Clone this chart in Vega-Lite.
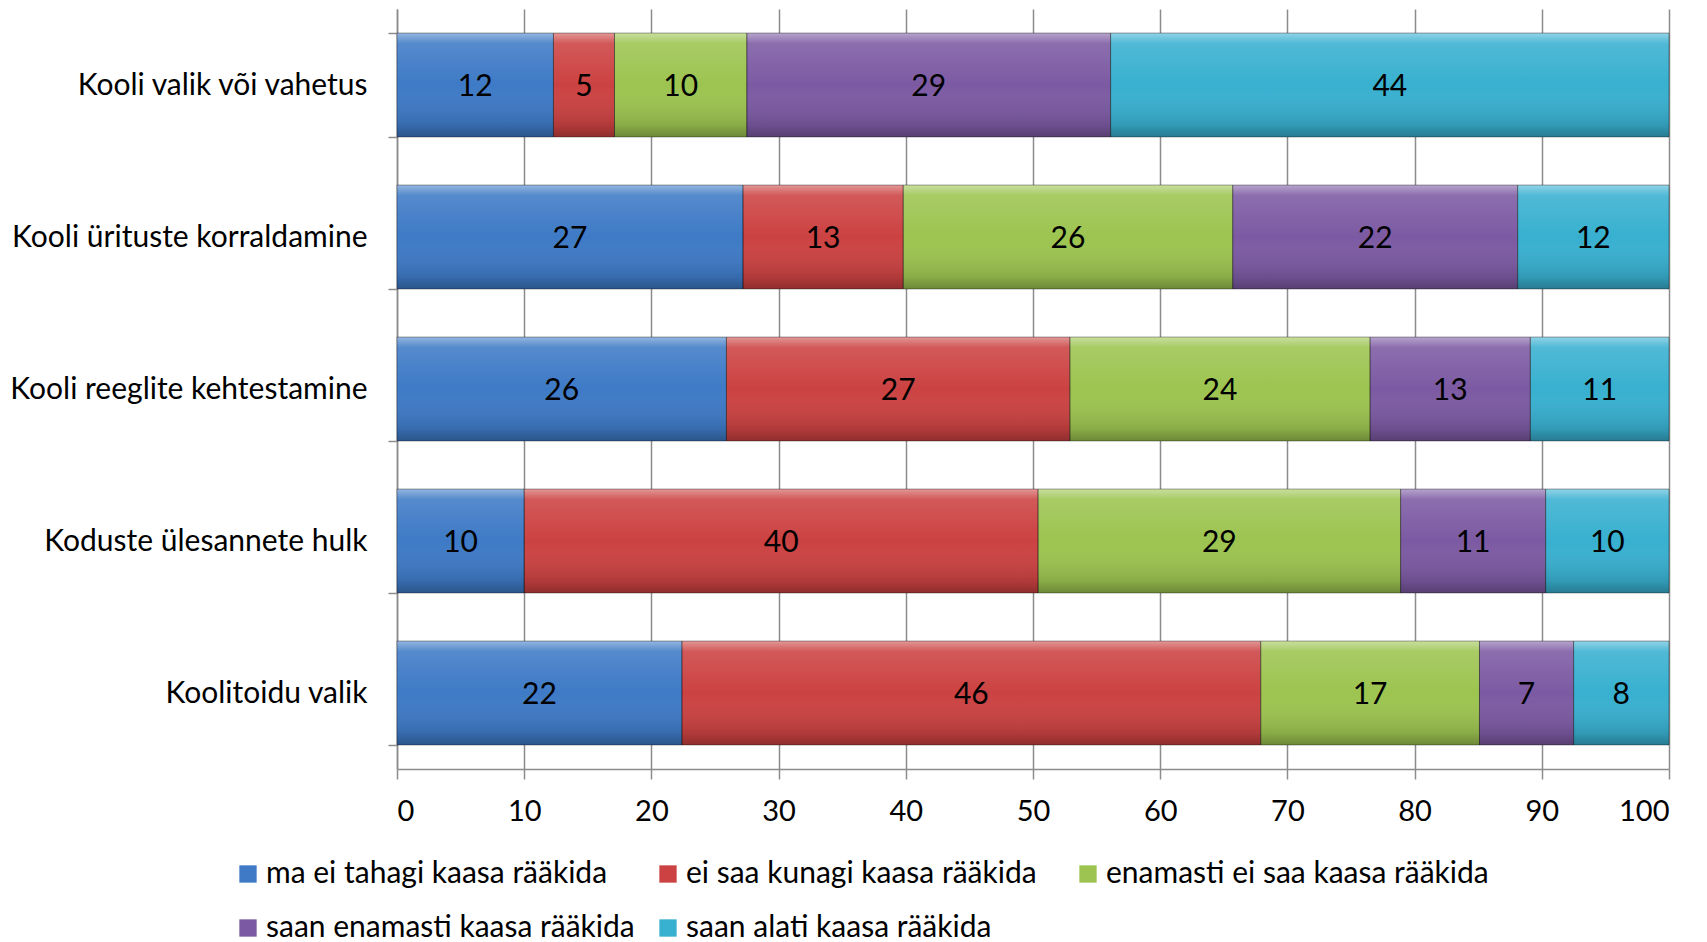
{
  "$schema": "https://vega.github.io/schema/vega-lite/v6.json",
  "width": 1272,
  "height": 760,
  "autosize": {"type": "none"},
  "padding": {"left": 397, "top": 9, "right": 38, "bottom": 173},
  "background": "white",
  "config": {
    "font": "Lato",
    "view": {"stroke": null},
    "axis": {"labelFont": "Lato", "labelColor": "#000000", "domainColor": "#8c8c8c", "tickColor": "#8c8c8c", "gridColor": "#8c8c8c", "domainWidth": 1.5, "tickWidth": 1.5, "gridWidth": 1.5}
  },
  "data": {
    "values": [
      {"category": "Kooli valik või vahetus", "series": "ma ei tahagi kaasa rääkida", "value": 12.3, "label": "12"},
      {"category": "Kooli valik või vahetus", "series": "ei saa kunagi kaasa rääkida", "value": 4.8, "label": "5"},
      {"category": "Kooli valik või vahetus", "series": "enamasti ei saa kaasa rääkida", "value": 10.4, "label": "10"},
      {"category": "Kooli valik või vahetus", "series": "saan enamasti kaasa rääkida", "value": 28.6, "label": "29"},
      {"category": "Kooli valik või vahetus", "series": "saan alati kaasa rääkida", "value": 43.9, "label": "44"},
      {"category": "Kooli ürituste korraldamine", "series": "ma ei tahagi kaasa rääkida", "value": 27.2, "label": "27"},
      {"category": "Kooli ürituste korraldamine", "series": "ei saa kunagi kaasa rääkida", "value": 12.6, "label": "13"},
      {"category": "Kooli ürituste korraldamine", "series": "enamasti ei saa kaasa rääkida", "value": 25.9, "label": "26"},
      {"category": "Kooli ürituste korraldamine", "series": "saan enamasti kaasa rääkida", "value": 22.4, "label": "22"},
      {"category": "Kooli ürituste korraldamine", "series": "saan alati kaasa rääkida", "value": 11.9, "label": "12"},
      {"category": "Kooli reeglite kehtestamine", "series": "ma ei tahagi kaasa rääkida", "value": 25.9, "label": "26"},
      {"category": "Kooli reeglite kehtestamine", "series": "ei saa kunagi kaasa rääkida", "value": 27.0, "label": "27"},
      {"category": "Kooli reeglite kehtestamine", "series": "enamasti ei saa kaasa rääkida", "value": 23.6, "label": "24"},
      {"category": "Kooli reeglite kehtestamine", "series": "saan enamasti kaasa rääkida", "value": 12.6, "label": "13"},
      {"category": "Kooli reeglite kehtestamine", "series": "saan alati kaasa rääkida", "value": 10.9, "label": "11"},
      {"category": "Koduste ülesannete hulk ", "series": "ma ei tahagi kaasa rääkida", "value": 10.0, "label": "10"},
      {"category": "Koduste ülesannete hulk ", "series": "ei saa kunagi kaasa rääkida", "value": 40.4, "label": "40"},
      {"category": "Koduste ülesannete hulk ", "series": "enamasti ei saa kaasa rääkida", "value": 28.5, "label": "29"},
      {"category": "Koduste ülesannete hulk ", "series": "saan enamasti kaasa rääkida", "value": 11.4, "label": "11"},
      {"category": "Koduste ülesannete hulk ", "series": "saan alati kaasa rääkida", "value": 9.7, "label": "10"},
      {"category": "Koolitoidu valik", "series": "ma ei tahagi kaasa rääkida", "value": 22.4, "label": "22"},
      {"category": "Koolitoidu valik", "series": "ei saa kunagi kaasa rääkida", "value": 45.5, "label": "46"},
      {"category": "Koolitoidu valik", "series": "enamasti ei saa kaasa rääkida", "value": 17.2, "label": "17"},
      {"category": "Koolitoidu valik", "series": "saan enamasti kaasa rääkida", "value": 7.4, "label": "7"},
      {"category": "Koolitoidu valik", "series": "saan alati kaasa rääkida", "value": 7.5, "label": "8"}
    ]
  },
  "transform": [
    {"stack": "value", "groupby": ["category"], "as": ["v0", "v1"]}
  ],
  "encoding": {
    "y": {
      "field": "category",
      "type": "nominal",
      "sort": null,
      "scale": {"paddingInner": 0.316, "paddingOuter": 0.158},
      "axis": {"title": null, "tickBand": "extent", "labelFontSize": 30, "labelPadding": 21, "tickSize": 9, "labelLimit": 0, "grid": false}
    }
  },
  "layer": [
    {
      "mark": {"type": "bar"},
      "encoding": {
        "x": {
          "field": "v0",
          "type": "quantitative",
          "scale": {"domain": [0, 100], "nice": false},
          "axis": {"title": null, "values": [0, 10, 20, 30, 40, 50, 60, 70, 80, 90, 100], "grid": true, "tickSize": 10, "labelFontSize": 29, "labelPadding": 18}
        },
        "x2": {"field": "v1"},
        "color": {
          "field": "series",
          "type": "nominal",
          "sort": null,
          "scale": {
            "domain": ["ma ei tahagi kaasa rääkida", "ei saa kunagi kaasa rääkida", "enamasti ei saa kaasa rääkida", "saan enamasti kaasa rääkida", "saan alati kaasa rääkida"],
            "range": ["#3E7AC6", "#CC4242", "#9DC450", "#7C5AA3", "#38B0D0"]
          },
          "legend": {
            "title": null,
            "orient": "none",
            "legendX": -164,
            "legendY": 850,
            "direction": "horizontal",
            "columns": 3,
            "gridAlign": "all",
            "columnPadding": 4,
            "rowPadding": 24,
            "labelFont": "Lato",
            "labelFontSize": 30,
            "labelColor": "#000000",
            "labelOffset": 3,
            "labelLimit": 0,
            "symbolType": "square",
            "symbolSize": 300,
            "symbolStrokeWidth": 0
          }
        }
      }
    },
    {
      "mark": {
        "type": "bar",
        "stroke": "rgba(0,0,0,0.35)",
        "strokeWidth": 1,
        "fill": {
          "gradient": "linear",
          "x1": 0, "y1": 0, "x2": 0, "y2": 1,
          "stops": [
            {"offset": 0, "color": "rgba(255,255,255,0.45)"},
            {"offset": 0.1, "color": "rgba(255,255,255,0.12)"},
            {"offset": 0.5, "color": "rgba(255,255,255,0)"},
            {"offset": 0.88, "color": "rgba(0,0,0,0.12)"},
            {"offset": 1, "color": "rgba(0,0,0,0.3)"}
          ]
        }
      },
      "encoding": {
        "x": {"field": "v0", "type": "quantitative"},
        "x2": {"field": "v1"}
      }
    },
    {
      "transform": [
        {"fold": ["v0", "v1"], "as": ["edge", "pos"]},
        {"aggregate": [{"op": "mean", "field": "pos", "as": "mid"}], "groupby": ["category", "series", "label"]}
      ],
      "mark": {"type": "text", "fontSize": 30, "color": "#000000", "baseline": "middle", "align": "center", "dy": 2},
      "encoding": {
        "x": {"field": "mid", "type": "quantitative"},
        "text": {"field": "label"}
      }
    }
  ]
}
